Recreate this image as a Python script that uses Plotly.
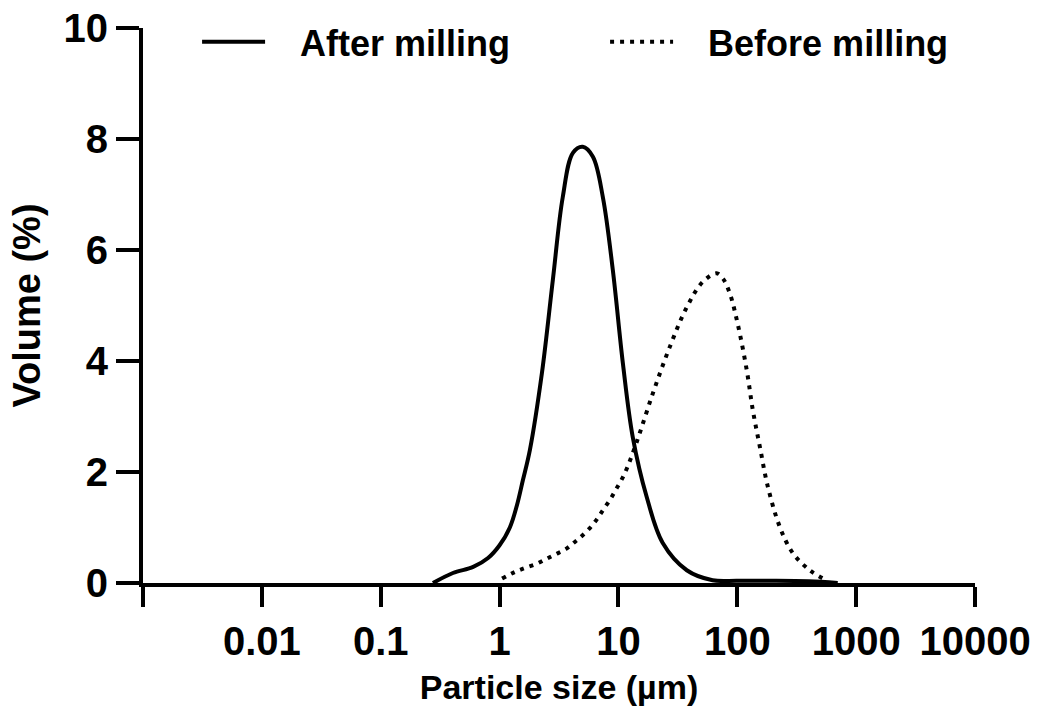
import plotly.graph_objects as go

# After milling (solid)
after_x = [0.275, 0.405, 0.6, 0.8, 1.0, 1.22, 1.4, 1.57, 1.8, 2.27, 2.81, 3.4, 4.14, 5.01, 6.1, 7.4, 8.97,
           10.9, 13.2, 17.3, 23.6, 37.6, 62, 100, 200, 400, 700]
after_y = [0.0, 0.18, 0.29, 0.45, 0.68, 1.0, 1.4, 1.85, 2.4, 3.78, 5.47, 6.95, 7.75, 7.86, 7.68, 6.95, 5.64,
           3.96, 2.63, 1.55, 0.72, 0.23, 0.05, 0.04, 0.04, 0.03, 0.0]

# Before milling (dotted)
before_x = [1.05, 1.35, 1.63, 2.02, 2.45, 2.97, 3.6, 4.3, 5.0, 5.86, 6.7, 7.5, 8.5, 9.5, 10.5, 11.7,
            14.3, 19.5, 27, 37.6, 51, 67, 76, 86.5, 101, 120, 135, 155, 181, 228, 293, 407, 562]
before_y = [0.08, 0.2, 0.27, 0.34, 0.43, 0.52, 0.61, 0.74, 0.86, 1.01, 1.17, 1.33, 1.5, 1.68, 1.84, 2.05,
            2.55, 3.42, 4.25, 4.97, 5.42, 5.58, 5.48, 5.22, 4.66, 3.84, 3.12, 2.45, 1.73, 1.01, 0.54, 0.23, 0.05]

series_names = ["After milling", "Before milling"]

x_tickvals = [0.001, 0.01, 0.1, 1, 10, 100, 1000, 10000]
x_ticktext = ["", "0.01", "0.1", "1", "10", "100", "1000", "10000"]
y_tickvals = [0, 2, 4, 6, 8, 10]

FONT = "Liberation Sans, Arial, Helvetica, sans-serif"
PAD = "\u00a0\u00a0\u00a0"

fig = go.Figure()
fig.add_trace(go.Scatter(x=after_x, y=after_y, mode="lines", name=PAD + series_names[0],
                         line=dict(color="black", width=4, shape="spline", smoothing=1.0)))
fig.add_trace(go.Scatter(x=before_x, y=before_y, mode="lines", name=PAD + series_names[1],
                         line=dict(color="black", width=4, dash="4px,6px", shape="spline", smoothing=1.0)))

fig.update_layout(
    width=1040, height=720,
    margin=dict(l=143, r=65, t=28, b=137, autoexpand=False),
    paper_bgcolor="white", plot_bgcolor="white",
    font=dict(family=FONT, color="black"),
    legend=dict(orientation="h", x=0.065, y=0.975, xanchor="left", yanchor="middle",
                font=dict(family=FONT, size=36, color="black", weight="bold"),
                itemwidth=63, entrywidth=330, entrywidthmode="pixels",
                bgcolor="rgba(0,0,0,0)"),
    xaxis=dict(type="log", range=[-3, 4], tickvals=x_tickvals, ticktext=x_ticktext,
               showgrid=False, zeroline=False, showline=True, linecolor="black", linewidth=4,
               ticks="outside", ticklen=20, tickwidth=4, tickcolor="black",
               ticklabelstandoff=0,
               tickfont=dict(family=FONT, size=40, color="black", weight="bold"),
               title=dict(text="Particle size (µm)", standoff=14,
                          font=dict(family=FONT, size=34, color="black", weight="bold"))),
    yaxis=dict(range=[0, 10], tickvals=y_tickvals,
               showgrid=False, zeroline=False, showline=True, linecolor="black", linewidth=4,
               ticks="outside", ticklen=23, tickwidth=4, tickcolor="black",
               ticklabelstandoff=0,
               tickfont=dict(family=FONT, size=40, color="black", weight="bold"),
               title=dict(text="Volume (%)", standoff=12,
                          font=dict(family=FONT, size=38, color="black", weight="bold"))),
)

fig.write_html("out.html")
